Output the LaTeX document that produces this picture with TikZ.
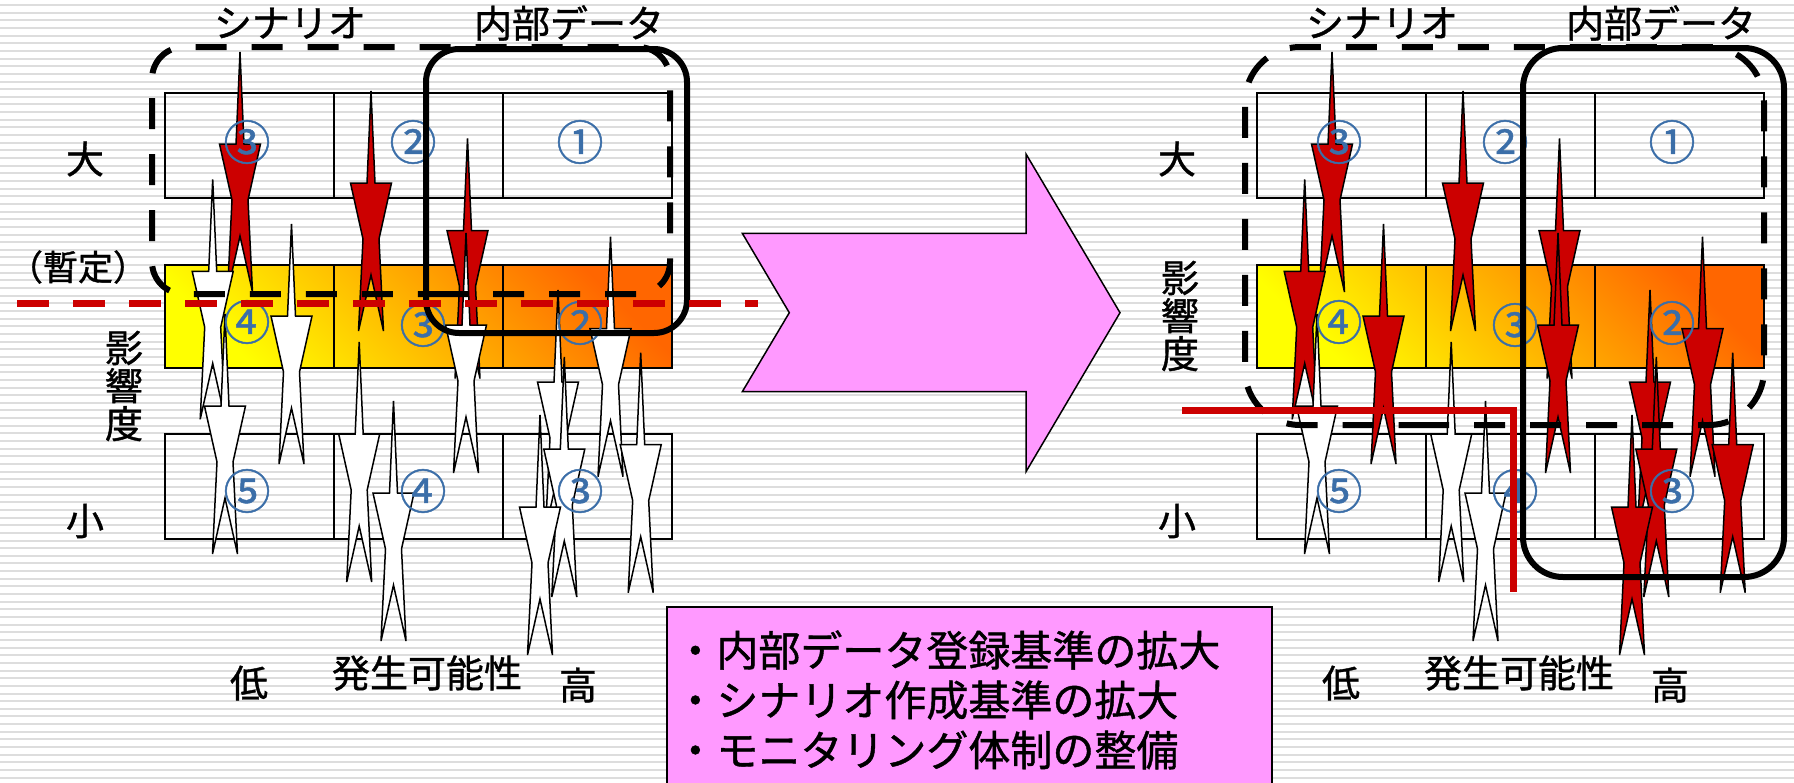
\documentclass[tikz,border=0pt]{standalone}
\usepackage{fontspec}
\setmainfont{Noto Sans CJK JP}[FakeBold=1]
\usetikzlibrary{shapes,arrows}

\definecolor{riskred}{HTML}{CC0000}
\definecolor{numblue}{HTML}{3B6EA8}
\definecolor{boxpink}{HTML}{FF99FF}
\definecolor{hotorange}{HTML}{FF6600}
\definecolor{stripegray}{HTML}{DDDDDD}

\tikzset{
  stripe/.style={stripegray, line width=1pt},
  cell/.style={black, line width=0.8pt},
  spike/.style={black, line width=0.75pt},
  scenbox/.style={black, line width=3pt, dash pattern=on 15.5pt off 12.5pt},
  databox/.style={black, line width=3pt},
  redline/.style={riskred, line width=3.5pt},
  lbl/.style={font=\fontsize{19}{19}\selectfont, inner sep=0pt},
  num/.style={font=\fontsize{23.5}{23.5}\selectfont, text=numblue, inner sep=0pt},
  memo/.style={font=\fontsize{21}{21}\selectfont, anchor=west, inner sep=0pt}
}

% risk arrow: x of axis, y of tip, fill
\newcommand{\riskarrow}[3]{%
  \draw[spike, fill=#3] (#1,#2) -- ++(4,92) -- ++(16.5,0) -- ++(-12.5,56)
    -- ++(4.5,92) -- ++(-12.5,-56) -- ++(-12.5,56) -- ++(4.5,-92)
    -- ++(-12.5,-56) -- ++(16.5,0) -- cycle;}

\begin{document}
\begin{tikzpicture}[x=0.5pt,y=-0.5pt]
  \useasboundingbox (0,0) rectangle (1794,782);

  %background
  \fill[white] (0,0) rectangle (1794,782);
  \foreach \k in {0,...,101}
    \draw[stripe] (0,5+7.65*\k) -- (1794,5+7.65*\k);

  %grids
  \foreach \dx in {0,1092} {
    \shade[top color=hotorange, bottom color=yellow, shading angle=-45] (165+\dx,265) rectangle (672+\dx,368);
    \foreach \ya/\yb in {93/198,265/368,434/539} {
      \draw[cell] (165+\dx,\ya) rectangle (672+\dx,\yb);
      \draw[cell] (334+\dx,\ya) -- (334+\dx,\yb);
      \draw[cell] (503+\dx,\ya) -- (503+\dx,\yb);
    }
  }

  %first diagram
  %red arrows
  \riskarrow{240}{52}{riskred}
  \riskarrow{371}{91}{riskred}
  \riskarrow{467.5}{138.5}{riskred}
  %white arrows
  \foreach \x/\y in {212.7/179.3, 291.5/224, 466/233, 610.5/236.7, 558/290, 564.3/357,
                     540/415, 640.7/352.7, 225/314, 359.2/342, 393.5/401}
    {\riskarrow{\x}{\y}{white}}

  %second diagram
  %red arrows
  \foreach \x/\y in {1332/52, 1463/91, 1559.5/138.5, 1304.7/179.3, 1383.5/224, 1558/233,
                     1702.5/236.7, 1650/290, 1656.3/357, 1632/415, 1732.7/352.7}
    {\riskarrow{\x}{\y}{riskred}}
  %white arrows
  \foreach \x/\y in {1317/314, 1451.2/342, 1485.5/401}
    {\riskarrow{\x}{\y}{white}}

  %cell numbers
  \foreach \dx/\p in {0/l,1092/r} {
    \foreach \x/\y/\s/\nm in {247/142/③/a, 413/142/②/b, 580/142/①/c,
                              247/322/④/d, 423/325/③/e, 580/323/②/f,
                              247/491/⑤/g, 423/491/④/h, 580/491/③/i}
      \node[num] (num\p\nm) at (\x+\dx,\y) {\s};
  }

  %scenario boxes
  \draw[scenbox, rounded corners=16pt] (405,294) -- (670,294) -- (670,47) -- (152,47) -- (152,294) -- cycle;
  \draw[scenbox, rounded corners=27.5pt] (1363,425) -- (1764,425) -- (1764,47) -- (1245,47) -- (1245,425) -- cycle;

  %internal data boxes
  \draw[databox, rounded corners=16.5pt] (426,49) rectangle (687,333);
  \draw[databox, rounded corners=20pt] (1523,48) rectangle (1784,577);

  %thresholds
  \draw[redline, dash pattern=on 16pt off 12pt] (17,303) -- (758,303);
  \draw[redline] (1182,410.5) -- (1513.3,410.5) -- (1513.3,592);

  %labels
  \foreach \dx/\p in {0/l,1092/r} {
    \node[lbl] (scen\p) at (290+\dx,23) {シナリオ};
    \node[lbl] (data\p) at (569+\dx,23) {内部データ};
    \node[lbl] (big\p) at (85+\dx,159) {大};
    \node[lbl] (small\p) at (85+\dx,521) {小};
    \node[lbl] (low\p) at (249+\dx,683) {低};
    \node[lbl] (prob\p) at (427+\dx,673) {発生可能性};
    \node[lbl] (high\p) at (578+\dx,685) {高};
  }
  \node[lbl, font=\fontsize{17.5}{17.5}\selectfont] (tentative) at (78,267) {（暫定）};
  \node[lbl, align=center] (impactl) at (124,386) {影\\響\\度};
  \node[lbl, align=center] (impactr) at (1180,316) {影\\響\\度};

  %big arrow
  \draw[fill=boxpink, line width=0.75pt] (742.3,233.3) -- (1026,233.3) -- (1026,154) -- (1120,312.7)
    -- (1026,471.7) -- (1026,391.7) -- (742.3,391.7) -- (789.3,312.7) -- cycle;

  %measures
  \draw[fill=boxpink, line width=0.75pt] (667,607) rectangle (1272,790);
  \node[memo] (memo1) at (674,650) {・内部データ登録基準の拡大};
  \node[memo] (memo2) at (674,700) {・シナリオ作成基準の拡大};
  \node[memo] (memo3) at (674,750) {・モニタリング体制の整備};
\end{tikzpicture}
\end{document}
